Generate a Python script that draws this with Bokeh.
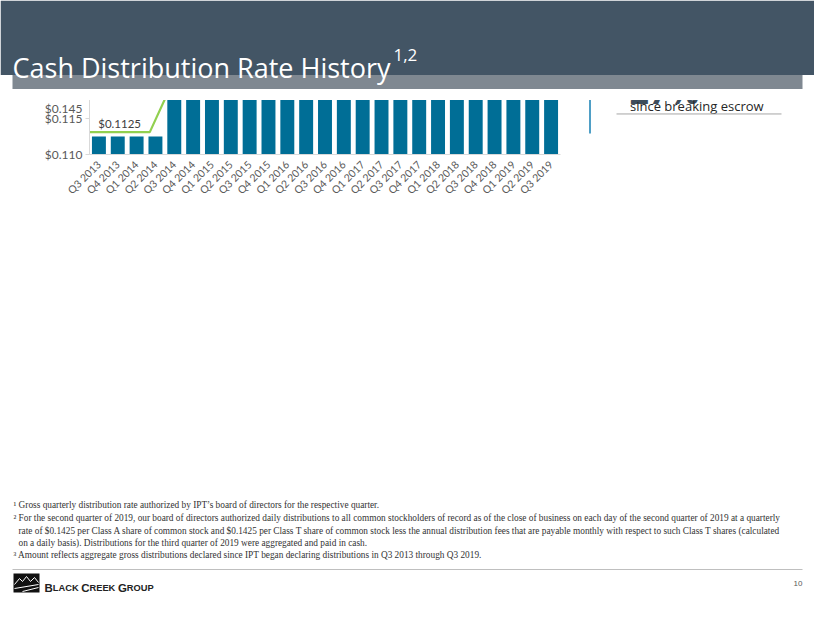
import math
from bokeh.plotting import figure
from bokeh.models import (Range1d, FixedTicker, NumeralTickFormatter, LabelSet, Label,
                          ColumnDataSource, Legend, LegendItem)
from bokeh.layouts import column, row
from bokeh.core.properties import value
from bokeh.embed import file_html
from bokeh.resources import INLINE

# ---------------- data ----------------
quarters = ["Q3 2013", "Q4 2013", "Q1 2014", "Q2 2014", "Q3 2014", "Q4 2014", "Q1 2015", "Q2 2015",
            "Q3 2015", "Q4 2015", "Q1 2016", "Q2 2016", "Q3 2016", "Q4 2016", "Q1 2017", "Q2 2017",
            "Q3 2017", "Q4 2017", "Q1 2018", "Q2 2018", "Q3 2018", "Q4 2018", "Q1 2019", "Q2 2019",
            "Q3 2019"]
distribution = [0.1125, 0.1125, 0.1125, 0.1125, 0.11875, 0.125, 0.125, 0.125,
                0.125, 0.13515, 0.13515, 0.13515, 0.13515, 0.13515, 0.1425, 0.1425,
                0.1425, 0.1425, 0.1425, 0.1425, 0.1425, 0.1425, 0.1425, 0.1425,
                0.1425]
y_ticks = [0.110, 0.115, 0.120, 0.125, 0.130, 0.135, 0.140, 0.145]

# green rate line (position in quarter index units, rate)
line_pos = [-0.5, 2.7, 4.9, 8.15, 9.25, 12.5, 13.6, 24.5]
line_vals = [0.1125, 0.1125, 0.125, 0.125, 0.13515, 0.13515, 0.1425, 0.1425]

# rate annotations
label_pos = [1.1, 6.6, 10.9, 19.0]
label_vals = [0.1125, 0.125, 0.13515, 0.1425]
label_text = ["$0.1125", "$0.1250", "$0.13515", "$0.1425"]
mid_label_pos = 3.45
mid_label_val = 0.11875
mid_label_text = "$0.11875"

legend_label = "Class A Share Quarterly per Share Cash Distribution"
chart_title = "GROSS QUARTERLY PER SHARE CASH DISTRIBUTION"

footnotes = [
    "\u00b9 Gross quarterly distribution rate authorized by IPT\u2019s board of directors for the respective quarter.",
    "\u00b2 For the second quarter of 2019, our board of directors authorized daily distributions to all common stockholders of record as of the close of business on each day of the second quarter of 2019 at a quarterly",
    "rate of $0.1425 per Class A share of common stock and $0.1425 per Class T share of common stock less the annual distribution fees that are payable monthly with respect to such Class T shares (calculated",
    "on a daily basis). Distributions for the third quarter of 2019 were aggregated and paid in cash.",
    "\u00b3 Amount reflects aggregate gross distributions declared since IPT began declaring distributions in Q3 2013 through Q3 2019.",
]

DARK = "#435565"
TEAL = "#1F7EA1"
BAR = "#006E96"
GREEN = "#92D050"


def canvas(x0, x1, y0, y1):
    f = figure(width=x1 - x0, height=y1 - y0, x_range=Range1d(x0, x1), y_range=Range1d(y1, y0),
               x_axis_type=None, y_axis_type=None, output_backend="svg", toolbar_location=None,
               min_border=0, outline_line_color=None, background_fill_color="white",
               border_fill_color="white")
    return f


def txt(f, x, y, s, size, font="Open Sans", style="normal", color="#333333", align="left",
        baseline="alphabetic"):
    f.text(x=[x], y=[y], text=[s], text_font=value(font), text_font_size=f"{size}px",
           text_font_style=style, text_color=color, text_align=align, text_baseline=baseline)


# ---------------- header ----------------
hdr = canvas(8, 822, 8, 108)
hdr.quad(left=[8], right=[822], top=[8], bottom=[82.5], fill_color=DARK, line_color=None)
hdr.quad(left=[20], right=[810], top=[82.5], bottom=[96.5], fill_color="#7F8891", line_color=None)
txt(hdr, 20, 75, "Cash Distribution Rate History", 27, color="white")
txt(hdr, 401, 62, "1,2", 17, color="white")

# ---------------- chart ----------------
idx = list(range(len(quarters)))
p = figure(width=582, height=362, x_range=Range1d(-0.5, len(quarters) - 0.5),
           y_range=Range1d(0.110, 0.145), output_backend="svg", toolbar_location=None,
           min_border_left=89, min_border_right=22, min_border_top=54, min_border_bottom=73,
           outline_line_color=None, background_fill_color="white", border_fill_color="white")
p.extra_y_ranges = {"line": Range1d(0.1094, 0.1444)}

bars = p.vbar(x=idx, top=distribution, bottom=0.1, width=0.74, fill_color=BAR, line_color=None)
p.line(x=line_pos, y=line_vals, y_range_name="line", line_color=GREEN, line_width=2.2)

src = ColumnDataSource(dict(x=label_pos, y=label_vals, t=label_text))
p.add_layout(LabelSet(x="x", y="y", text="t", source=src, y_range_name="line",
                      text_align="center", text_baseline="middle", y_offset=9,
                      text_font=value("Lato"), text_font_size=value("11.5px"),
                      text_color="#404040"))
p.add_layout(Label(x=mid_label_pos, y=mid_label_val, text=mid_label_text,
                   y_range_name="line", text_align="center", text_baseline="middle", y_offset=3,
                   text_font="Lato", text_font_size="11.5px", text_color="#404040",
                   background_fill_color="white", padding=2))

p.xgrid.visible = False
p.ygrid.visible = False
p.yaxis.ticker = FixedTicker(ticks=y_ticks)
p.yaxis.formatter = NumeralTickFormatter(format="$0.000")
p.xaxis.ticker = FixedTicker(ticks=idx)
p.xaxis.major_label_overrides = {i: q for i, q in zip(idx, quarters)}
for ax in (p.xaxis[0], p.yaxis[0]):
    ax.axis_line_color = "#D9D9D9"
    ax.major_tick_line_color = "#D9D9D9"
    ax.minor_tick_line_color = None
    ax.major_label_text_font = "Lato"
    ax.major_label_text_color = "#595959"
p.yaxis.major_tick_out = 4
p.yaxis.major_tick_in = 0
p.yaxis.major_label_standoff = 3
p.yaxis.major_label_text_font_size = "12px"
p.xaxis.major_tick_line_color = None
p.xaxis.major_label_orientation = math.pi / 4
p.xaxis.major_label_text_font_size = "10.5px"
p.xaxis.major_label_standoff = 2

p.title.text = chart_title
p.title.align = "center"
p.title.text_font = "Open Sans"
p.title.text_font_style = "bold"
p.title.text_font_size = "14px"
p.title.text_color = "#262626"

legend = Legend(items=[LegendItem(label=legend_label, renderers=[bars])], location="center",
                orientation="horizontal", border_line_color=None, background_fill_alpha=0,
                label_text_font="Lato", label_text_font_size="13px", label_text_color="#262626",
                glyph_width=12, glyph_height=12, label_standoff=4, padding=0, margin=6)
p.add_layout(legend, "below")

# ---------------- side panel ----------------
side = canvas(590, 822, 108, 470)
side.segment(x0=[597.5], y0=[124], x1=[597.5], y1=[440], line_color="#4F9FC6", line_width=2)
side.quad(left=[624], right=[789], top=[173], bottom=[180], fill_color=DARK, line_color=None)
txt(side, 637.5, 201, "Total Investor", 15, style="bold", color=TEAL)
txt(side, 637.5, 220, "Distributions Per", 15, style="bold", color=TEAL)
txt(side, 637.5, 239, "Share Paid\u00b3", 15, style="bold", color=TEAL)
txt(side, 637, 277.5, "$3.31", 36, style="bold", color="#3D4D5C")
side.segment(x0=[624], y0=[295], x1=[789], y1=[295], line_color="#A6A6A6", line_width=1)
txt(side, 637.5, 319.5, "Distribution", 15, style="bold", color=TEAL)
txt(side, 637.5, 338.5, "Rate Increase", 15, style="bold", color=TEAL)
txt(side, 637, 378.5, "27%", 34, style="bold", color="#3D4D5C")
txt(side, 637.5, 400, "since breaking escrow", 13, color="#262626")
side.segment(x0=[624], y0=[412], x1=[789], y1=[412], line_color="#A6A6A6", line_width=1)

# ---------------- footer ----------------
ftr = canvas(8, 822, 470, 615)
for i, (s, y) in enumerate(zip(footnotes, [512, 525.5, 538, 550, 562.5])):
    x = 26 if i in (2, 3) else 21
    txt(ftr, x, y, s, 9.3, font="Liberation Sans Narrow", color="#333333", baseline="middle")
ftr.segment(x0=[20], y0=[577], x1=[810], y1=[577], line_color="#BFBFBF", line_width=1)
ftr.quad(left=[21], right=[47], top=[581], bottom=[600], fill_color="#111111", line_color=None)
ftr.line(x=[22, 27, 30, 34, 38, 42, 46], y=[592, 586, 589, 584, 589, 585, 590], line_color="white",
         line_width=1)
ftr.line(x=[22, 46], y=[596, 592], line_color="white", line_width=1)
ftr.line(x=[30, 46], y=[599, 595], line_color="white", line_width=1)
for xs, s, size in [(52, "B", 11.5), (60.3, "LACK", 9.3), (88.7, "C", 11.5), (97, "REEK", 9.3),
                    (125.4, "G", 11.5), (134.3, "ROUP", 9.3)]:
    txt(ftr, xs, 595.5, s, size, font="Liberation Sans", style="bold", color="#222222")
txt(ftr, 810, 591, "10", 8, font="Liberation Sans", color="#595959", align="right", baseline="middle")

layout = column(hdr, row(p, side), ftr)
open("out.html", "w").write(file_html(layout, INLINE))
